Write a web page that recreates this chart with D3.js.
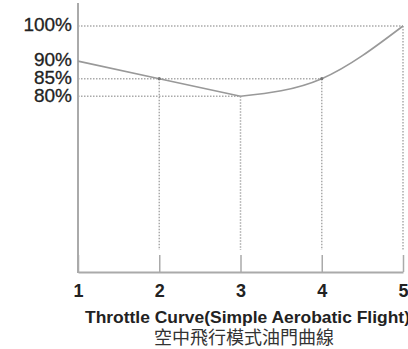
<!DOCTYPE html>
<html lang="en">
<head>
    <meta charset="utf-8">
    <style type="text/css">
        body { margin: 0; background: #fff; }
        svg { display: block; }
        .guide { stroke: #aaa; stroke-width: 1.5px; stroke-dasharray: 1.5,1.5; fill: none; }
        .curve { stroke: #999; stroke-width: 1.6px; fill: none; }
        .axis-line { stroke: #aaa; stroke-width: 2px; }
    </style>
</head>
<body>
<div id="chart"></div>
<script src="https://d3js.org/d3.v7.min.js"></script>
<script type="text/javascript">
    // throttle stick positions and the throttle % at each one
    var positions = [1, 2, 3, 4, 5];
    var throttle = [90, 85, 80, 85, 100];
    var yTicks = [80, 85, 90, 100];
    var title = "Throttle Curve(Simple Aerobatic  Flight)";
    var subtitle = "空中飛行模式油門曲線";

    var width = 408,
        height = 349;

    var svg = d3.select("#chart").append("svg")
        .attr("width", width)
        .attr("height", height);

    var x = d3.scaleLinear().domain([1, 5]).range([78, 403]);
    var y = d3.scaleLinear().domain([30, 100]).range([272, 26]);

    var points = positions.map(function (p, i) { return {x: p, y: throttle[i]}; });

    // dotted guides: horizontal from the axis to each point, vertical from point down
    var guides = svg.append("g");
    points.forEach(function (d, i) {
        if (i == 0) return;
        // only draw horizontal guide for the last point at that level
        var later = points.slice(i + 1).some(function (e) { return e.y == d.y; });
        if (!later) {
            guides.append("line").attr("class", "guide")
                .attr("x1", x(1)).attr("x2", x(d.x))
                .attr("y1", y(d.y)).attr("y2", y(d.y));
        }
        guides.append("line").attr("class", "guide")
            .attr("x1", x(d.x)).attr("x2", x(d.x))
            .attr("y1", y(d.y)).attr("y2", 250);
    });

    // x axis, ticks pointing up
    var xAxis = svg.append("g")
        .attr("transform", "translate(0,272)")
        .call(d3.axisBottom(x).tickValues(positions).tickFormat(d3.format("d"))
            .tickSizeInner(-17).tickSizeOuter(0).tickPadding(8));
    xAxis.select(".domain").attr("stroke", "#aaa").attr("stroke-width", 2);
    xAxis.selectAll(".tick line").attr("stroke", "#aaa").attr("stroke-width", 1.5);
    xAxis.selectAll(".tick text")
        .attr("y", 25)
        .attr("dy", null)
        .attr("fill", "#222")
        .style("font-family", "'Liberation Sans', Arial, sans-serif")
        .style("font-size", "18px")
        .style("font-weight", "bold");

    // y axis line and labels
    svg.append("line").attr("class", "axis-line")
        .attr("x1", x(1)).attr("x2", x(1))
        .attr("y1", 3).attr("y2", 273);

    var yAxis = svg.append("g")
        .attr("transform", "translate(" + x(1) + ",0)")
        .call(d3.axisLeft(y).tickValues(yTicks)
            .tickFormat(function (d) { return d + "%"; })
            .tickSize(0).tickPadding(6));
    yAxis.select(".domain").remove();
    yAxis.selectAll(".tick text")
        .attr("dy", "0.25em")
        .attr("fill", "#222")
        .attr("stroke", "#222")
        .attr("stroke-width", 0.3)
        .style("font-family", "'Liberation Sans', Arial, sans-serif")
        .style("font-size", "19px");

    // the curve: straight down to the low point, then curving up to full throttle
    var low = throttle.indexOf(d3.min(throttle));
    var straight = d3.line()
        .x(function (d) { return x(d.x); })
        .y(function (d) { return y(d.y); });
    var bend = d3.line()
        .x(function (d) { return x(d.x); })
        .y(function (d) { return y(d.y); })
        .curve(d3.curveMonotoneX);

    svg.append("path").datum(points.slice(0, low + 1))
        .attr("class", "curve")
        .attr("d", straight);
    svg.append("path").datum(points.slice(low))
        .attr("class", "curve")
        .attr("d", bend);

    svg.selectAll(".pt")
        .data([points[1], points[3]])
        .enter().append("circle")
        .attr("class", "pt")
        .attr("cx", function (d) { return x(d.x); })
        .attr("cy", function (d) { return y(d.y); })
        .attr("r", 1.6)
        .attr("fill", "#777");

    svg.append("text")
        .attr("x", 85).attr("y", 323)
        .attr("textLength", 325)
        .attr("lengthAdjust", "spacingAndGlyphs")
        .attr("fill", "#222")
        .style("font-family", "'Liberation Sans', Arial, sans-serif")
        .style("font-size", "16.5px")
        .style("font-weight", "bold")
        .text(title);

    svg.append("text")
        .attr("x", 244).attr("y", 344)
        .attr("text-anchor", "middle")
        .attr("fill", "#333")
        .style("font-family", "'Noto Sans CJK TC', sans-serif")
        .style("font-size", "18px")
        .text(subtitle);
</script>
</body>
</html>
